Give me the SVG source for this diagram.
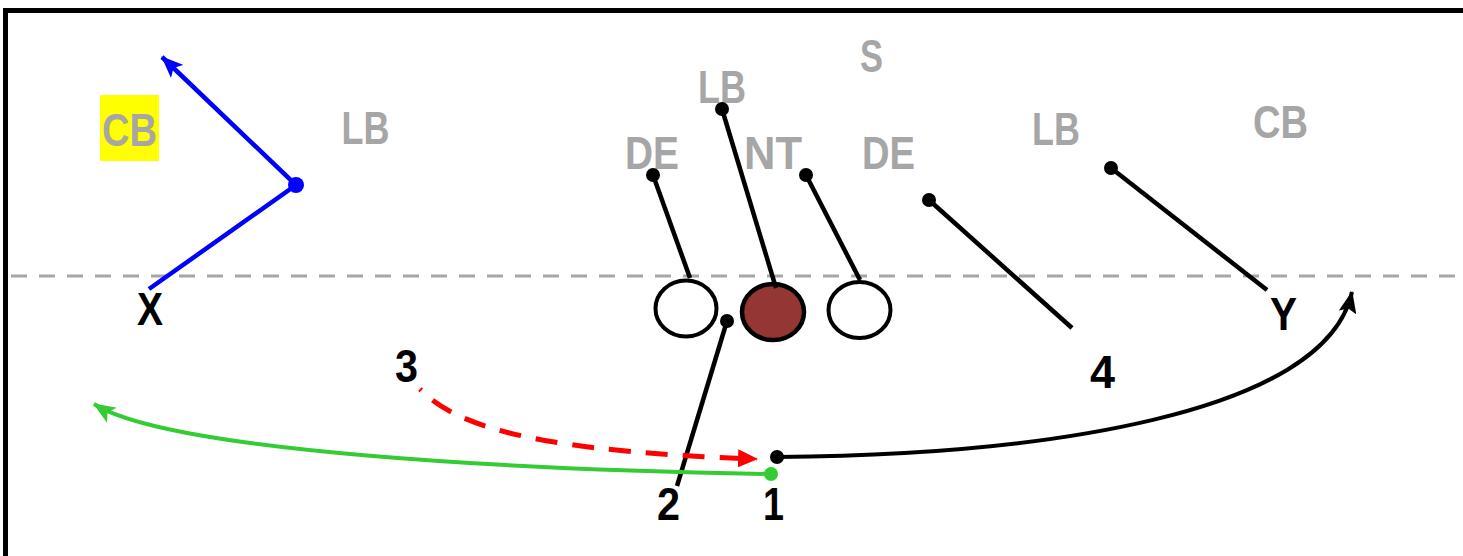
<svg xmlns="http://www.w3.org/2000/svg" width="1463" height="556" viewBox="0 0 1463 556">
<style>
.def{font-family:"Liberation Sans",Arial,sans-serif;font-weight:bold;font-size:46px;fill:#A6A6A6;text-anchor:middle}
.off{font-family:"Liberation Sans",Arial,sans-serif;font-weight:bold;font-size:46px;fill:#000;text-anchor:middle}
.blk{stroke:#000;stroke-width:4.5;fill:none}
</style>
<defs>
<marker id="aBlue" markerUnits="userSpaceOnUse" markerWidth="22" markerHeight="18" viewBox="0 0 22 18" refX="21" refY="9" orient="auto"><path d="M0,0 L22,9 L0,18 L5,9 Z" fill="#0000FF"/></marker>
<marker id="aGreen" markerUnits="userSpaceOnUse" markerWidth="22" markerHeight="18" viewBox="0 0 22 18" refX="21" refY="9" orient="auto"><path d="M0,0 L22,9 L0,18 L5,9 Z" fill="#33CC33"/></marker>
<marker id="aBlack" markerUnits="userSpaceOnUse" markerWidth="22" markerHeight="18" viewBox="0 0 22 18" refX="21" refY="9" orient="auto"><path d="M0,0 L22,9 L0,18 L4,9 Z" fill="#000"/></marker>
<marker id="aRed" markerUnits="userSpaceOnUse" markerWidth="20" markerHeight="18" viewBox="0 0 20 18" refX="19" refY="9" orient="auto"><path d="M0,0 L20,9 L0,18 Z" fill="#FF0000"/></marker>
</defs>
<rect x="0" y="0" width="1463" height="556" fill="#fff"/>
<rect x="5.5" y="10.5" width="1480" height="580" fill="none" stroke="#000" stroke-width="5"/>
<line x1="11" y1="276" x2="1463" y2="276" stroke="#A6A6A6" stroke-width="3" stroke-dasharray="16 12"/>

<g id="defense">
<g id="cb-left"><rect x="100" y="95" width="59" height="66" fill="#FFFF00"/><text class="def" x="129.5" y="146" textLength="55" lengthAdjust="spacingAndGlyphs">CB</text></g>
<g id="lb-left"><text class="def" x="365.5" y="144" textLength="48" lengthAdjust="spacingAndGlyphs">LB</text></g>
<g id="s"><text class="def" x="871.5" y="72" textLength="23" lengthAdjust="spacingAndGlyphs">S</text></g>
<g id="lb-mid"><text class="def" x="722" y="103" textLength="48" lengthAdjust="spacingAndGlyphs">LB</text></g>
<g id="de-left"><text class="def" x="652" y="169" textLength="54" lengthAdjust="spacingAndGlyphs">DE</text></g>
<g id="nt"><text class="def" x="773" y="169" textLength="58" lengthAdjust="spacingAndGlyphs">NT</text></g>
<g id="de-right"><text class="def" x="888.5" y="169" textLength="53" lengthAdjust="spacingAndGlyphs">DE</text></g>
<g id="lb-right"><text class="def" x="1056" y="145" textLength="48" lengthAdjust="spacingAndGlyphs">LB</text></g>
<g id="cb-right"><text class="def" x="1280.5" y="138" textLength="55" lengthAdjust="spacingAndGlyphs">CB</text></g>
</g>

<g id="line">
<g id="lg"><ellipse cx="686" cy="308.5" rx="30.5" ry="28" fill="#fff" stroke="#000" stroke-width="4"/></g>
<g id="center"><ellipse cx="773" cy="312" rx="31" ry="28" fill="#943634" stroke="#000" stroke-width="4.5"/></g>
<g id="rg"><ellipse cx="859.5" cy="310" rx="31" ry="28" fill="#fff" stroke="#000" stroke-width="4"/></g>
</g>

<g id="offense">
<g id="x"><text class="off" x="150" y="325" textLength="26" lengthAdjust="spacingAndGlyphs">X</text></g>
<g id="y"><text class="off" x="1283.5" y="330" textLength="27" lengthAdjust="spacingAndGlyphs">Y</text></g>
<g id="n4"><text class="off" x="1102.5" y="388" textLength="25" lengthAdjust="spacingAndGlyphs">4</text></g>
<g id="n3"><text class="off" x="406.5" y="382" textLength="23" lengthAdjust="spacingAndGlyphs">3</text></g>
<g id="n2"><text class="off" x="668.5" y="520" textLength="23" lengthAdjust="spacingAndGlyphs">2</text></g>
<g id="n1"><text class="off" x="773.5" y="520" textLength="21" lengthAdjust="spacingAndGlyphs">1</text></g>
</g>

<g id="connectors">
<line class="blk" x1="653" y1="175" x2="690" y2="278"/><circle cx="653" cy="175" r="7"/>
<line class="blk" x1="722" y1="109" x2="776" y2="288"/><circle cx="722" cy="109" r="7"/>
<line class="blk" x1="806" y1="175" x2="860" y2="280"/><circle cx="806" cy="175" r="7"/>
<line class="blk" x1="929" y1="200" x2="1072" y2="328"/><circle cx="929" cy="200" r="7"/>
<line class="blk" x1="1111" y1="168" x2="1267" y2="290"/><circle cx="1111" cy="168" r="7"/>
<line class="blk" x1="727" y1="321" x2="677" y2="486"/><circle cx="727" cy="321" r="7"/>

<polyline points="149,289 296,185 162,57" fill="none" stroke="#0000FF" stroke-width="4.5" marker-end="url(#aBlue)"/>
<circle cx="296" cy="185" r="8" fill="#0000FF"/>

<path d="M771,474 C520,470 170,452 94,404" fill="none" stroke="#33CC33" stroke-width="4" marker-end="url(#aGreen)"/>
<circle cx="771" cy="474" r="7" fill="#33CC33"/>

<path d="M420,389 C460,432 560,452 757,459" fill="none" stroke="#FF0000" stroke-width="5" stroke-dasharray="22 15" stroke-dashoffset="20" marker-end="url(#aRed)"/>

<path d="M777,457 C1040,455 1325,415 1352,292" fill="none" stroke="#000" stroke-width="4" marker-end="url(#aBlack)"/>
<circle cx="777" cy="457" r="7"/>
</g>
</svg>
